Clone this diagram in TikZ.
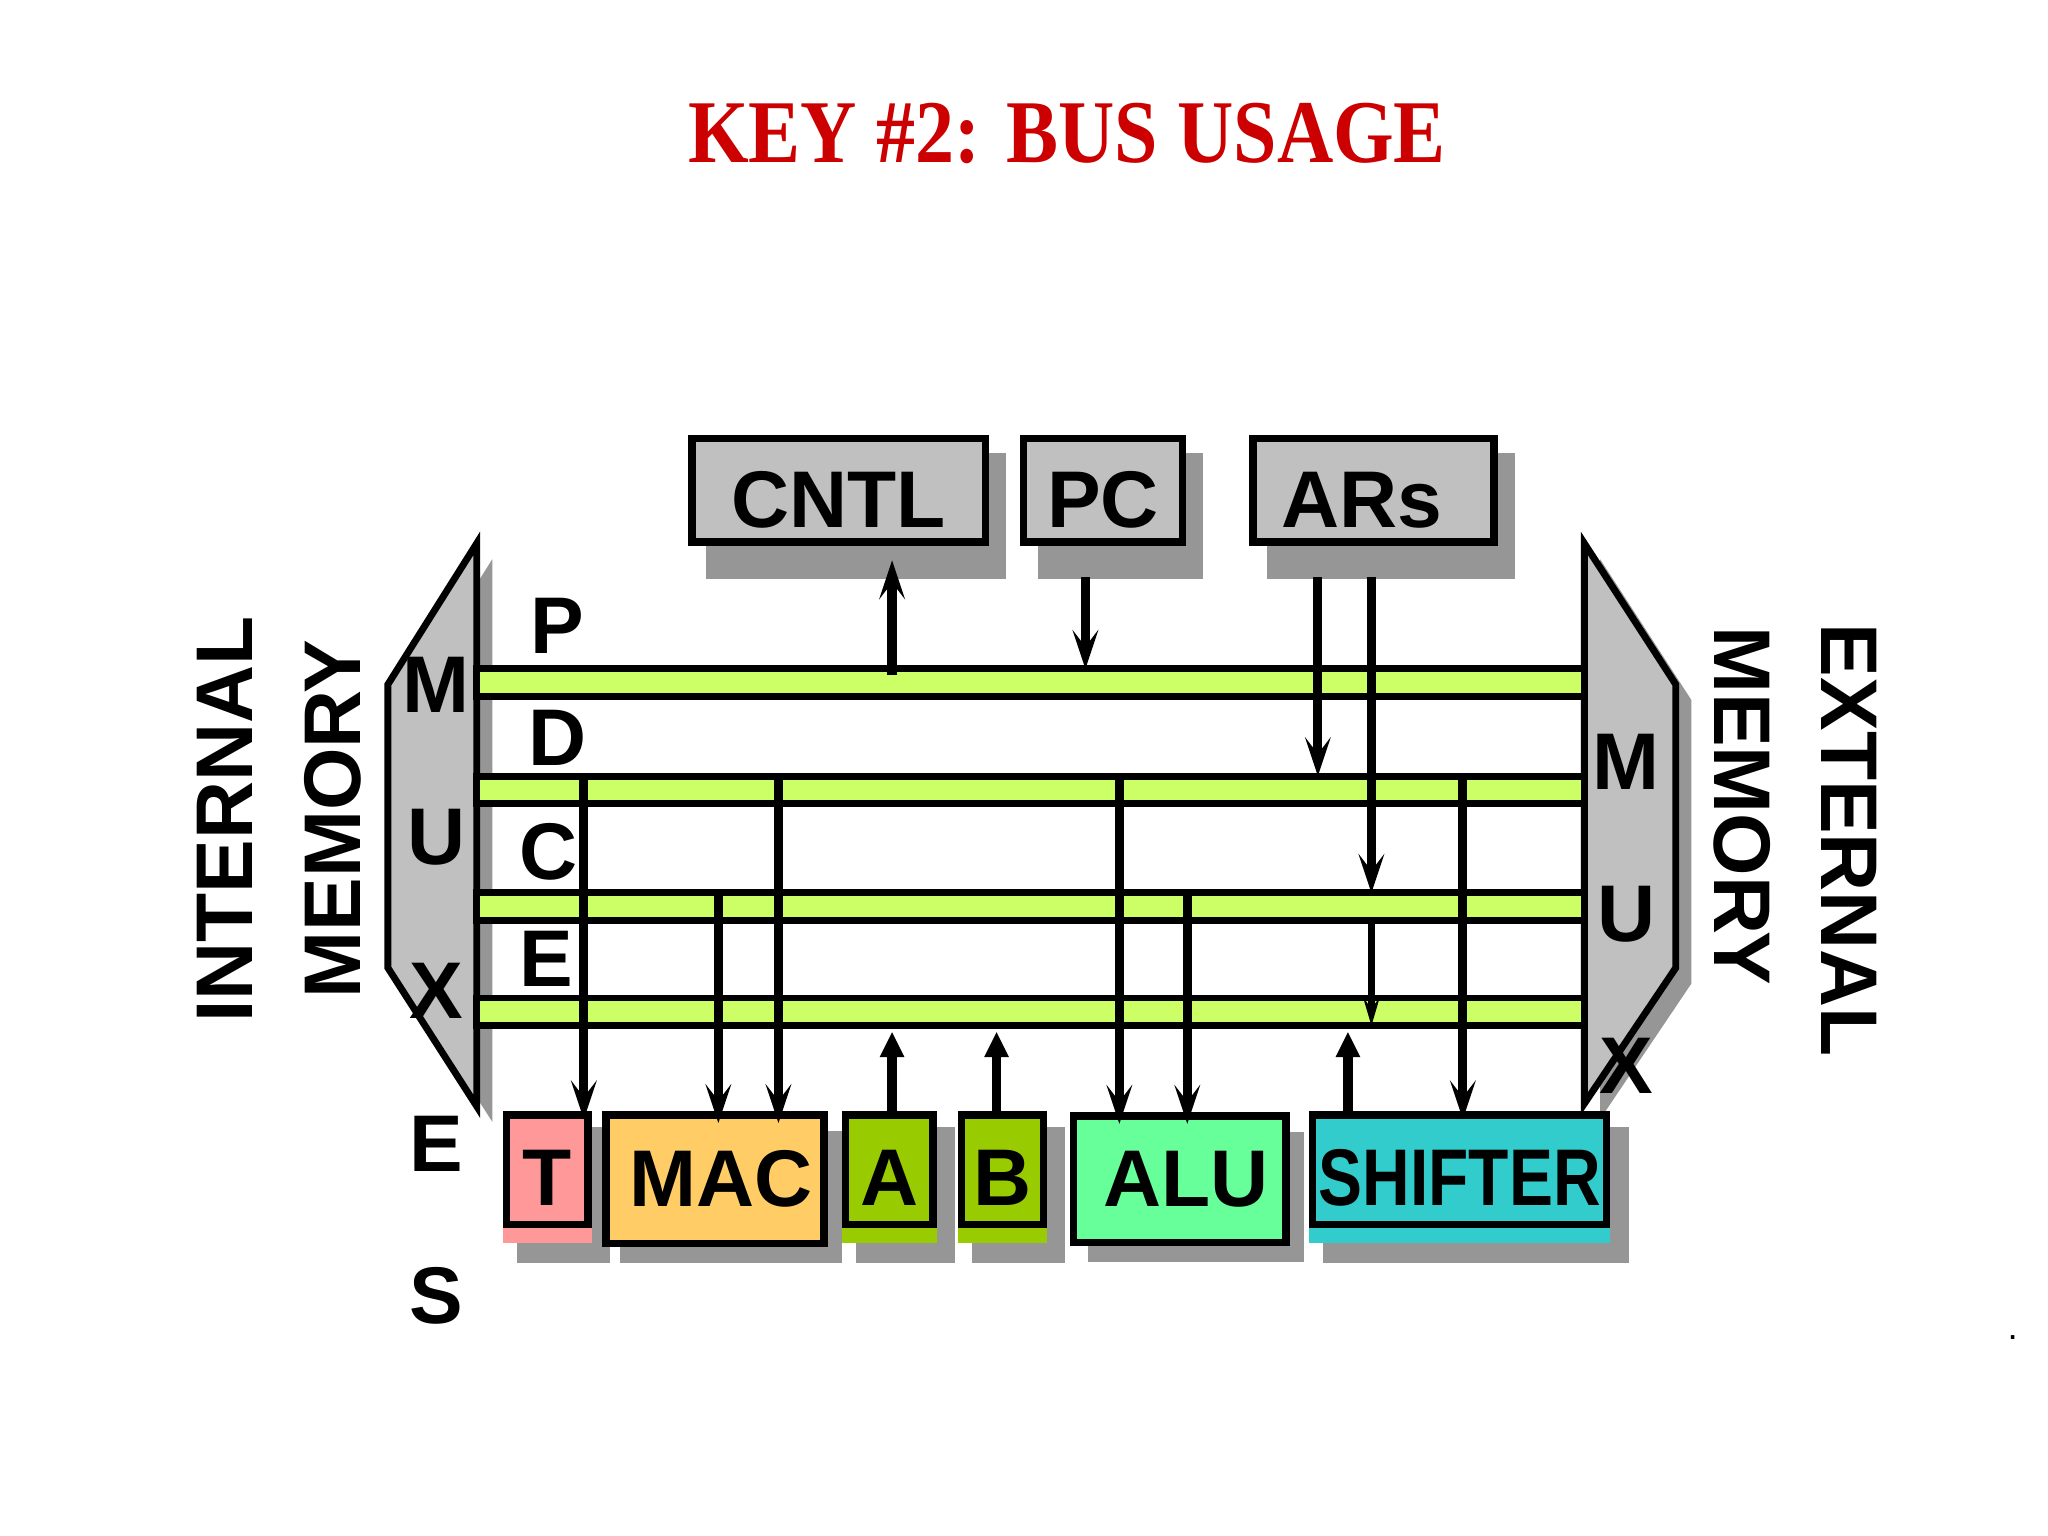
\documentclass[tikz,border=0pt]{standalone}
\usepackage{fontspec}
\setmainfont{Liberation Sans}
\newfontfamily\titelfont{Liberation Serif}
\usepackage{graphicx}
\usepackage{tikz}
\usetikzlibrary{arrows.meta,backgrounds}
\definecolor{busgreen}{HTML}{CCFF66}
\definecolor{muxgray}{HTML}{C0C0C0}
\definecolor{shadegray}{HTML}{969696}
\definecolor{tpink}{HTML}{FF9999}
\definecolor{macorange}{HTML}{FFCC66}
\definecolor{abgreen}{HTML}{99CC00}
\definecolor{alugreen}{HTML}{66FF99}
\definecolor{shcyan}{HTML}{33CCCC}
\definecolor{titlered}{HTML}{CC0000}

\begin{document}
\begin{tikzpicture}[x=0.01cm, y=-0.01cm,
	lbl/.style={font=\bfseries\fontsize{17.5}{20}\selectfont, inner sep=0pt, outer sep=0pt},
	bus/.style={draw, fill=busgreen, line width=1.5pt, minimum width=8.48cm, minimum height=0.212cm, inner sep=0pt, outer sep=0pt},
	topbox/.style={lbl, draw, fill=muxgray, line width=1.6pt, minimum height=0.79cm, text height=16.2pt},
	unit/.style={lbl, minimum height=1.01cm},
	boxframe/.style={draw, line width=1.6pt},
	muxline/.style={draw, fill=muxgray, line width=1.5pt},
	barb/.style={line width=2pt, -{Stealth[length=0.3cm, width=0.2cm, inset=0.13cm, line width=0pt]}},
	smallbarb/.style={line width=1.7pt, -{Stealth[length=0.22cm, width=0.13cm, inset=0.09cm, line width=0pt]}},
	fullarrow/.style={line width=2pt, -{Triangle[length=0.19cm, width=0.19cm, line width=0pt]}, shorten >=0.05cm},
	tobox/.style={shorten >=-0.06cm}
	]
	
	\useasboundingbox (0,0) rectangle (1568,1176);
	
	% Titel
	\node[font=\titelfont\bfseries\fontsize{19.5}{22}\selectfont, text=titlered, xscale=0.87] (titel) at (817,102.5) {KEY \#2: BUS USAGE};
	
	% Multiplexer
	\draw[muxline] (365,416) -- (297,524) -- (297,741) -- (365,847) -- cycle;
	\draw[muxline] (1213,416) -- (1283,524) -- (1283,741) -- (1213,845) -- cycle;
	\foreach \b/\y in {M/524, U/641, X/759, E/875.6, S/992}
		\node[lbl] (mi\b) at (334,\y) {\b};
	\foreach \b/\y in {M/583, U/700, X/816}
		\node[lbl] (me\b) at (1245,\y) {\b};
	
	% Speicher
	\node[lbl, rotate=90] (intern) at (172,627.5) {INTERNAL};
	\node[lbl, rotate=90] (imem) at (255,627) {MEMORY};
	\node[lbl, rotate=-90] (extern) at (1416,643.5) {EXTERNAL};
	\node[lbl, rotate=-90] (emem) at (1333.5,616.7) {MEMORY};
	
	% Busse
	\node[bus] (busP) at (789,522.7) {};
	\node[bus] (busD) at (789,604.8) {};
	\node[bus] (busC) at (789,694.2) {};
	\node[bus] (busE) at (789,774.7) {};
	\node[lbl] (lP) at (427,479) {P};
	\node[lbl] (lD) at (427,565) {D};
	\node[lbl] (lC) at (420,652) {C};
	\node[lbl] (lE) at (418.5,734.5) {E};
	
	% Register oben
	\node[topbox, minimum width=2.245cm] (CNTL) at (642,375.5) {CNTL};
	\node[topbox, minimum width=1.215cm] (PC) at (844.5,375.5) {PC};
	\node[topbox, minimum width=1.845cm] (ARs) at (1051.5,375.5) {\hspace*{-0.18cm}ARs};
	
	% Rechenwerke unten
	\node[unit, fill=tpink, minimum width=0.68cm] (T) at (419,901.5) {T};
	\node[unit, draw, line width=1.6pt, fill=macorange, minimum width=1.668cm, minimum height=0.98cm] (MAC) at (547.5,902.8) {\hspace*{0.09cm}MAC};
	\node[unit, fill=abgreen, minimum width=0.724cm] (A) at (680.8,901.5) {A};
	\node[unit, fill=abgreen, minimum width=0.683cm] (B) at (767.5,901.5) {B};
	\node[unit, draw, line width=1.6pt, fill=alugreen, minimum width=1.627cm, minimum height=0.97cm] (ALU) at (903.3,902.9) {\hspace*{0.1cm}ALU};
	\node[unit, fill=shcyan, minimum width=2.306cm] (SHIFTER) at (1117.6,901.5) {\scalebox{0.82}[1]{SHIFTER}};
	\foreach \n in {T,A,B,SHIFTER}
		\draw[boxframe] ([shift={(2.8,2.8)}]\n.north west) rectangle ([shift={(-2.8,-14.5)}]\n.south east);
	
	% Schatten
	\begin{scope}[on background layer]
		\fill[white] (0,0) rectangle (1568,1176);
		\fill[shadegray, shift={(12,12)}] (365,416) -- (297,524) -- (297,741) -- (365,847) -- cycle;
		\fill[shadegray, shift={(12,12)}] (1213,416) -- (1283,524) -- (1283,741) -- (1213,845) -- cycle;
		\foreach \n in {CNTL,PC,ARs}
			\fill[shadegray] ([shift={(11,11)}]\n.north west) rectangle ([shift={(16,28)}]\n.south east);
		\foreach \n in {T,MAC,A,B,ALU,SHIFTER}
			\fill[shadegray] ([shift={(11,12)}]\n.north west) rectangle ([shift={(14,15)}]\n.south east);
	\end{scope}
	
	% Abgriffe
	\coordinate (xCNTL) at (683,0);
	\coordinate (xPC) at (831,0);
	\coordinate (xARa) at (1009,0);
	\coordinate (xARb) at (1050,0);
	\coordinate (xT) at (447,0);
	\coordinate (xMACa) at (550,0);
	\coordinate (xMACb) at (596,0);
	\coordinate (xA) at (683,0);
	\coordinate (xB) at (763,0);
	\coordinate (xALUa) at (857,0);
	\coordinate (xALUb) at (909,0);
	\coordinate (xSHa) at (1032,0);
	\coordinate (xSHb) at (1120,0);
	
	% Pfeile oben
	\draw[barb, shorten <=-0.05cm, shorten >=0.14cm] (xCNTL |- busP.north) -- (xCNTL |- CNTL.south);
	\draw[barb, shorten <=0.27cm] (xPC |- PC.south) -- (xPC |- busP.north);
	\draw[barb, shorten <=0.27cm] (xARa |- ARs.south) -- (xARa |- busD.north);
	\draw[barb, shorten <=0.27cm] (xARb |- ARs.south) -- (xARb |- busC.north);
	\draw[smallbarb] (xARb |- busC.south) -- (xARb |- busE.south);
	
	% Pfeile unten
	\draw[barb, tobox] (xT |- busD.north) -- (xT |- T.north);
	\draw[barb, tobox] (xMACa |- busC.north) -- (xMACa |- MAC.north);
	\draw[barb, tobox] (xMACb |- busD.north) -- (xMACb |- MAC.north);
	\draw[fullarrow] (xA |- A.north) -- (xA |- busE.south);
	\draw[fullarrow] (xB |- B.north) -- (xB |- busE.south);
	\draw[barb, tobox] (xALUa |- busD.north) -- (xALUa |- ALU.north);
	\draw[barb, tobox] (xALUb |- busC.north) -- (xALUb |- ALU.north);
	\draw[fullarrow] (xSHa |- SHIFTER.north) -- (xSHa |- busE.south);
	\draw[barb, tobox] (xSHb |- busD.north) -- (xSHb |- SHIFTER.north);
	
	\node[font=\fontsize{8}{8}\selectfont, inner sep=0pt] (punkt) at (1541,1024) {.};
\end{tikzpicture}
\end{document}
